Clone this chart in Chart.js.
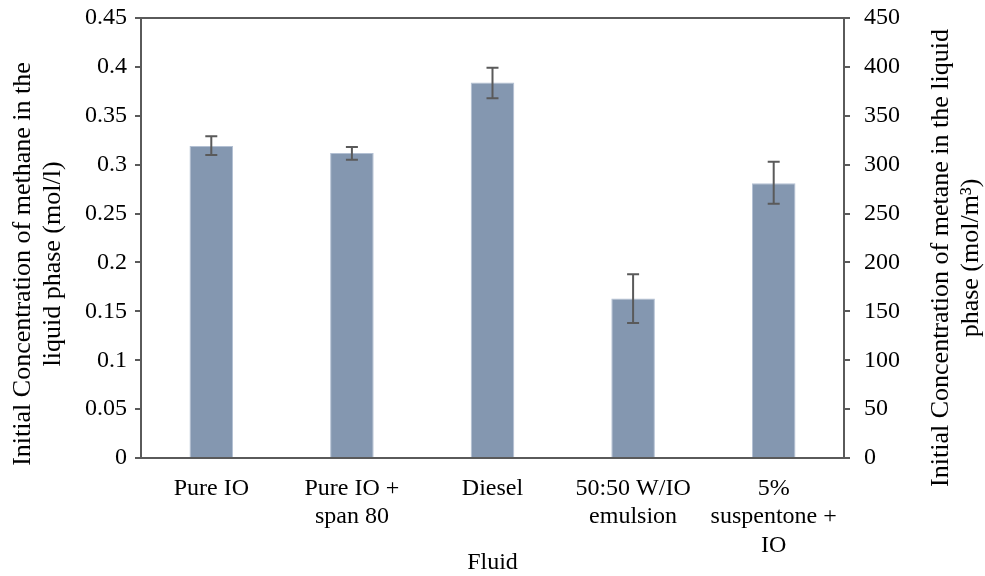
<!DOCTYPE html>
<html>
<head>
<meta charset="utf-8">
<script src="https://cdn.jsdelivr.net/npm/chart.js@4"></script>
<style>
  html, body { margin: 0; padding: 0; background: #ffffff; }
  #wrap { width: 985px; height: 576px; position: relative; }
</style>
</head>
<body>
<div id="wrap"><canvas id="chart"></canvas></div>
<script>
// ---- データ ----
const fluids = [
    ['Pure IO'],
    ['Pure IO +', 'span 80'],
    ['Diesel'],
    ['50:50 W/IO', 'emulsion'],
    ['5%', 'suspentone +', 'IO'],
];
const concentration = [0.319, 0.312, 0.384, 0.163, 0.281];   // mol/l
const errLow = [0.310, 0.305, 0.368, 0.138, 0.260];
const errHigh = [0.329, 0.318, 0.399, 0.188, 0.303];

const leftTitle = ['Initial Concentration of methane in the', 'liquid phase (mol/l)'];
const rightTitle = ['Initial Concentration of metane in the liquid', 'phase (mol/m\u00B3)'];
const xTitle = 'Fluid';

const FONT = "'Liberation Serif', 'Times New Roman', serif";
const AXIS = '#5a5a5a';

// エラーバーと軸タイトル
const extrasPlugin = {
    id: 'extras',
    afterDatasetsDraw(chart) {
        const ctx = chart.ctx;
        const meta = chart.getDatasetMeta(0);
        const y = chart.scales.y;
        ctx.save();
        ctx.strokeStyle = AXIS;
        ctx.lineWidth = 2;
        meta.data.forEach((bar, i) => {
            const yl = y.getPixelForValue(errLow[i]);
            const yh = y.getPixelForValue(errHigh[i]);
            ctx.beginPath();
            ctx.moveTo(bar.x, yl); ctx.lineTo(bar.x, yh);
            ctx.moveTo(bar.x - 6, yl); ctx.lineTo(bar.x + 6, yl);
            ctx.moveTo(bar.x - 6, yh); ctx.lineTo(bar.x + 6, yh);
            ctx.stroke();
        });
        ctx.restore();
    },
    afterDraw(chart) {
        const ctx = chart.ctx;
        const area = chart.chartArea;
        ctx.save();
        // 上枠
        ctx.strokeStyle = AXIS;
        ctx.lineWidth = 2;
        ctx.beginPath();
        ctx.moveTo(area.left - 6, area.top);
        ctx.lineTo(area.right + 6, area.top);
        ctx.stroke();

        ctx.fillStyle = '#000';
        ctx.textAlign = 'center';
        ctx.textBaseline = 'middle';
        ctx.font = `26px ${FONT}`;
        // 左タイトル
        ctx.save();
        ctx.translate(0, 264);
        ctx.rotate(-Math.PI / 2);
        ctx.fillText(leftTitle[0], 0, 23);
        ctx.fillText(leftTitle[1], 0, 53);
        ctx.restore();
        // 右タイトル
        ctx.save();
        ctx.translate(0, 258);
        ctx.rotate(-Math.PI / 2);
        ctx.fillText(rightTitle[0], 0, 941);
        ctx.fillText(rightTitle[1], 0, 971);
        ctx.restore();
        // X タイトル
        ctx.font = `24px ${FONT}`;
        ctx.fillText(xTitle, (area.left + area.right) / 2, 563);
        ctx.restore();
    }
};

const fitY = s => { s.width = 141; s.paddingTop = 0; s.paddingBottom = 0; };

new Chart(document.getElementById('chart'), {
    type: 'bar',
    data: {
        labels: fluids,
        datasets: [{
            data: concentration,
            backgroundColor: '#8497b0',
            borderColor: '#b3c0d3',
            borderWidth: 1,
            categoryPercentage: 1,
            barPercentage: 0.31,
            yAxisID: 'y',
        }],
    },
    options: {
        responsive: true,
        maintainAspectRatio: false,
        animation: false,
        layout: { padding: { top: 18, left: 0, right: 0, bottom: 0 } },
        plugins: { legend: { display: false }, tooltip: { enabled: false } },
        scales: {
            x: {
                afterFit: s => { s.height = 118; s.paddingLeft = 0; s.paddingRight = 0; },
                grid: { display: false },
                border: { display: true, color: AXIS, width: 2 },
                ticks: { color: '#000', font: { family: FONT, size: 24 }, padding: 8, maxRotation: 0 },
            },
            y: {
                position: 'left',
                min: 0, max: 0.45,
                afterFit: fitY,
                grid: { drawOnChartArea: false, drawTicks: true, tickLength: 6, color: AXIS, lineWidth: 2 },
                border: { display: true, color: AXIS, width: 2 },
                ticks: { stepSize: 0.05, color: '#000', padding: 8, font: { family: FONT, size: 24 },
                    callback: v => String(Math.round(v * 100) / 100) },
            },
            y2: {
                position: 'right',
                min: 0, max: 450,
                afterFit: fitY,
                grid: { drawOnChartArea: false, drawTicks: true, tickLength: 6, color: AXIS, lineWidth: 2 },
                border: { display: true, color: AXIS, width: 2 },
                ticks: { stepSize: 50, color: '#000', padding: 14, font: { family: FONT, size: 24 } },
            },
        },
    },
    plugins: [extrasPlugin],
});
</script>
</body>
</html>
